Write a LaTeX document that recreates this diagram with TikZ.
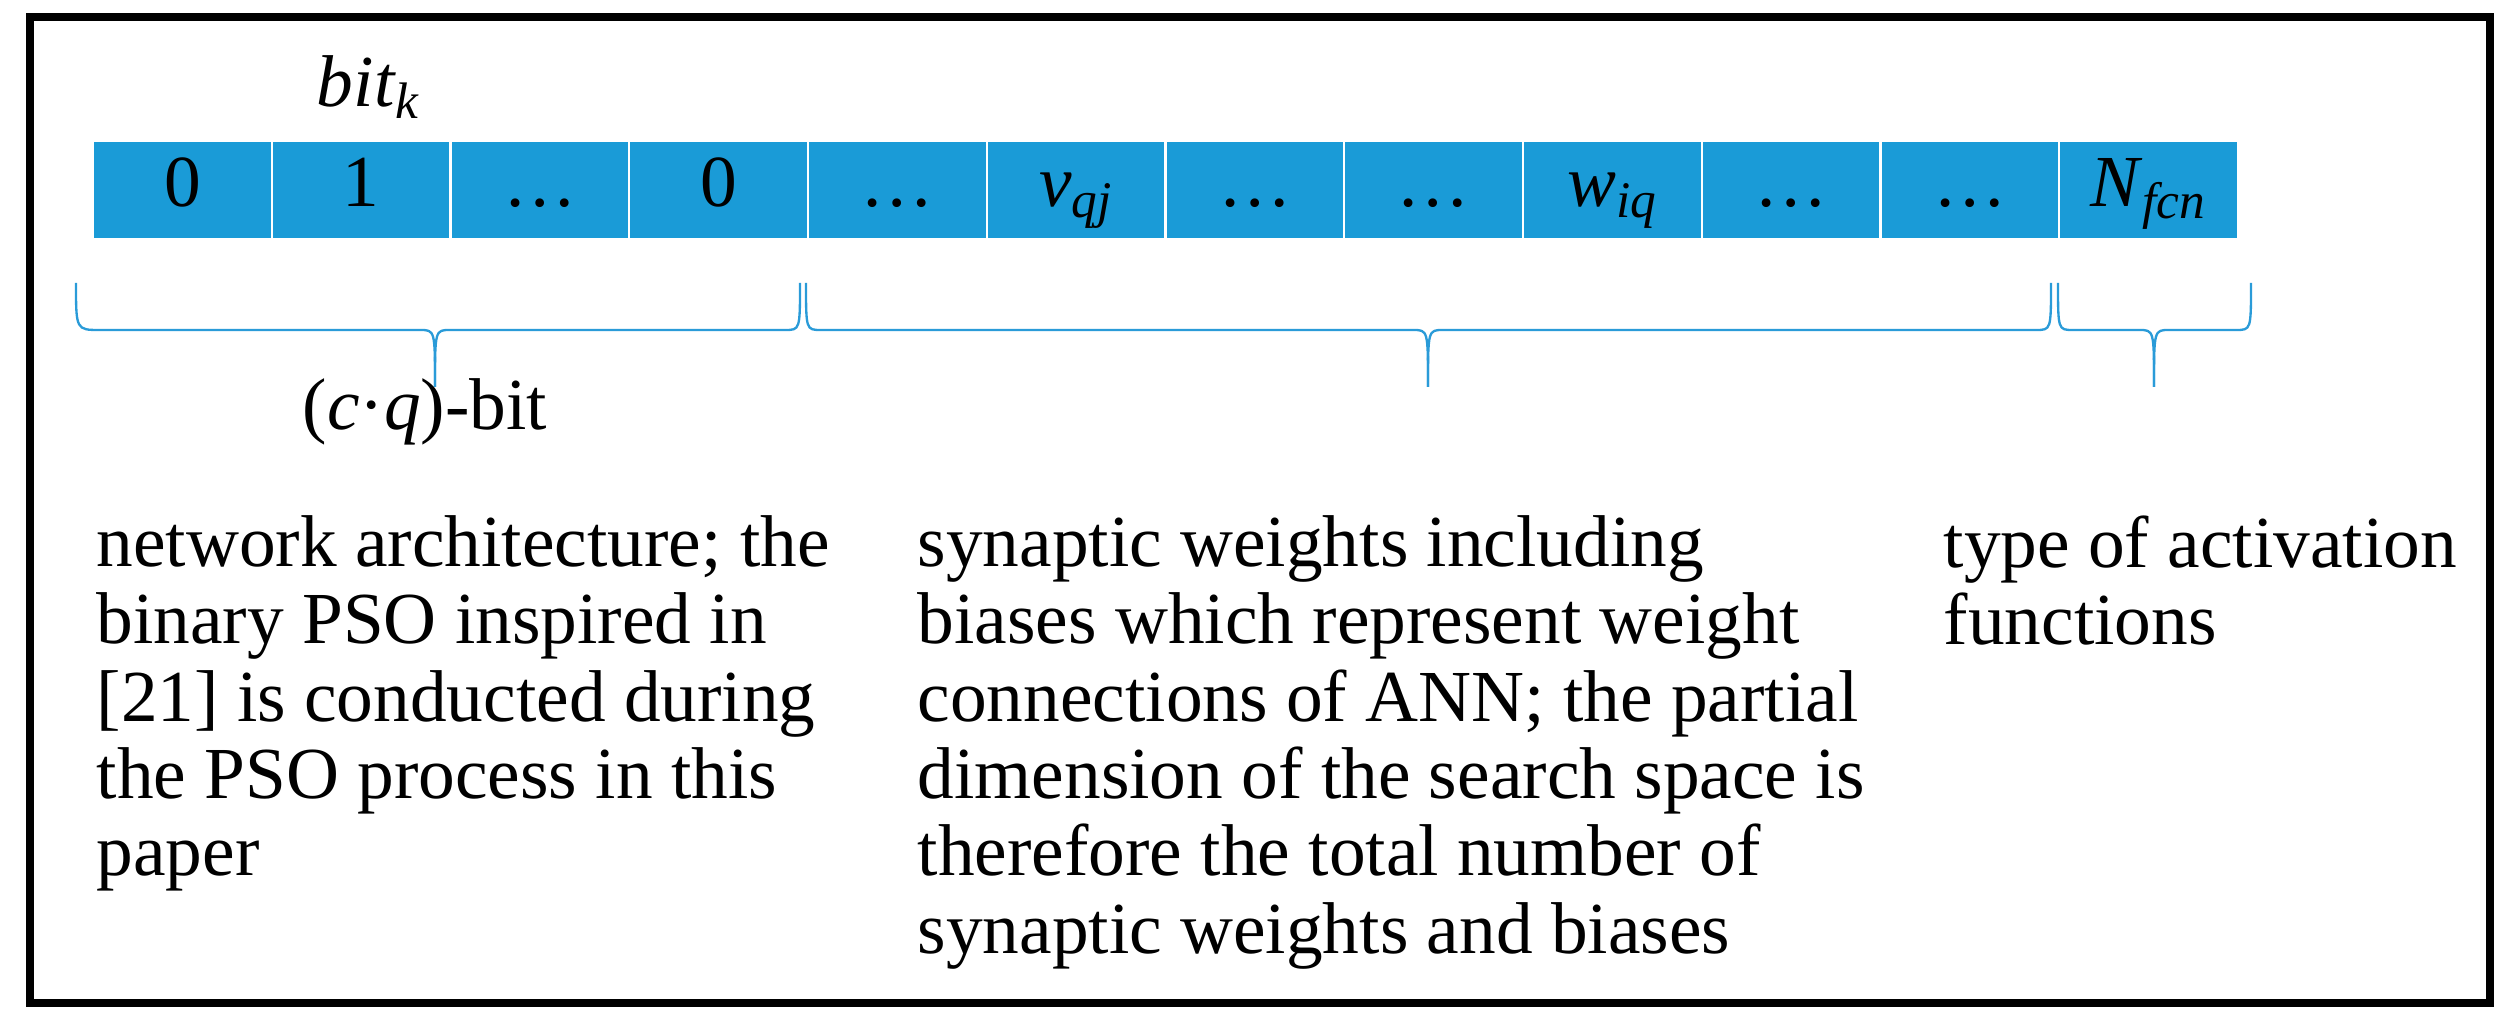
\documentclass[tikz,border=0pt]{standalone}
\usepackage{fontspec}
\setmainfont{Liberation Serif}
\definecolor{cellblue}{HTML}{1A9BD7}
\definecolor{braceblue}{HTML}{2A9BD8}
\newcommand{\ital}[2]{\textit{#1}\textsubscript{\textit{#2}}}
\begin{document}
\begin{tikzpicture}[x=0.3pt,y=-0.3pt,
  cell/.style={fill=cellblue,draw=white,line width=0.6pt,minimum width=53.6pt,minimum height=29.4pt,inner sep=0,anchor=north west,text height=14pt,text depth=4pt,font=\fontsize{22}{22}\selectfont},
  brace/.style={draw=braceblue,line width=0.7pt},
  desc/.style={anchor=north west,inner sep=0,align=left,font=\fontsize{22}{23.2}\selectfont}]
\useasboundingbox (0,0) rectangle (2514,1025);
\draw[line width=2.2pt] (30,17) rectangle (2490,1003);
\foreach \i/\t in {0/0,1/1,2/…,3/0,4/…,5/\ital{v}{qj},6/…,7/…,8/\ital{w}{iq},9/…,10/…,11/\ital{N}{fcn}}{
  \node[cell] (c\i) at ({92+\i*178.75},140) {\t};
}
\node[anchor=base,font=\fontsize{22}{22}\selectfont] (bk) at (369,107) {\ital{bit}{k}};
% braces
\coordinate (b1) at (435,387);
\coordinate (b2) at (1428,387);
\coordinate (b3) at (2154,387);
\draw[brace] (76,283) .. controls (76,330) .. (100,330) -- (420,330) .. controls (435,330) .. (b1);
\draw[brace] (b1) .. controls (435,330) .. (450,330) -- (785,330) .. controls (800,330) .. (800,283);
\draw[brace] (806,283) .. controls (806,330) .. (821,330) -- (1413,330) .. controls (1428,330) .. (b2);
\draw[brace] (b2) .. controls (1428,330) .. (1443,330) -- (2036,330) .. controls (2051,330) .. (2051,283);
\draw[brace] (2058,283) .. controls (2058,330) .. (2073,330) -- (2139,330) .. controls (2154,330) .. (b3);
\draw[brace] (b3) .. controls (2154,330) .. (2169,330) -- (2236,330) .. controls (2251,330) .. (2251,283);
\node[anchor=base,font=\fontsize{22}{22}\selectfont] (cq) at (425,430) {(\textit{c}·\textit{q})-bit};
\node[desc] (d1) at (96,515) {network architecture; the\\binary PSO inspired in\\{[21]} is conducted during\\the PSO process in this\\paper};
\node[desc] (d2) at (917,515) {synaptic weights including\\biases which represent weight\\connections of ANN; the partial\\dimension of the search space is\\therefore the total number of\\synaptic weights and biases};
\node[desc] (d3) at (1943,515) {type of activation\\functions};
\end{tikzpicture}
\end{document}
